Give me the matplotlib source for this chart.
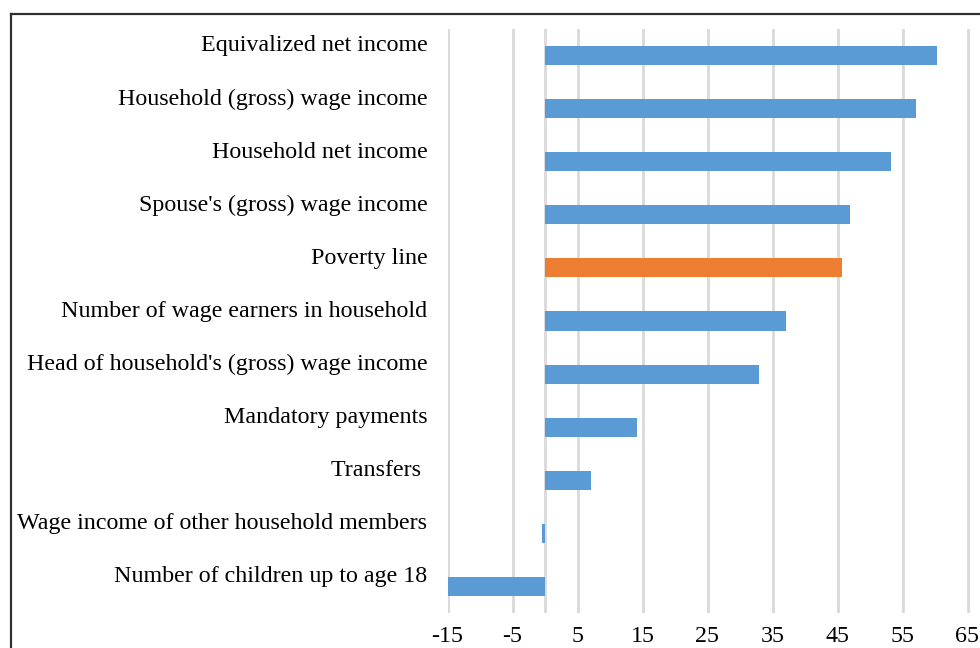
import matplotlib
matplotlib.use("Agg")
import matplotlib.pyplot as plt
from matplotlib.lines import Line2D
import numpy as np

categories = [
    "Equivalized net income",
    "Household (gross) wage income",
    "Household net income",
    "Spouse's (gross) wage income",
    "Poverty line",
    "Number of wage earners in household",
    "Head of household's (gross) wage income",
    "Mandatory payments",
    "Transfers ",
    "Wage income of other household members",
    "Number of children up to age 18",
]
values = [60.3, 57.1, 53.2, 46.9, 45.7, 37.0, 32.9, 14.2, 7.0, -0.5, -15.0]
highlight = "Poverty line"
x_ticks = [-15, -5, 5, 15, 25, 35, 45, 55, 65]

BLUE = "#5B9BD5"
ORANGE = "#ED7D31"
GRID = "#D9D9D9"

plt.rcParams["font.family"] = ["Liberation Serif", "DejaVu Serif"]

W, H = 980, 648
fig = plt.figure(figsize=(W / 100, H / 100), dpi=100)
ax = fig.add_axes([447.5 / W, 1 - 613 / H, (980 - 447.5) / W, 584 / H])

pos = np.arange(len(categories))
colors = [ORANGE if c == highlight else BLUE for c in categories]
ax.barh(pos, values, height=0.36, color=colors, zorder=3)

ax.set_xlim(-15, -15 + (980 - 447.5) / 6.5)
ax.set_ylim(len(categories) - 0.5, -0.5)

ax.set_xticks(x_ticks)
ax.set_xticklabels([str(t) for t in x_ticks])
for t in x_ticks:
    ax.axvline(t, color=GRID, lw=2, zorder=1)
ax.axvline(0, color=GRID, lw=2, zorder=1)

ax.set_yticks(pos - 0.23)
ax.set_yticklabels(categories)
ax.tick_params(axis="y", length=0, pad=14.5, labelsize=17.3, colors="#000000")
ax.tick_params(axis="x", length=0, pad=9, labelsize=17.3, colors="#000000")

for s in ax.spines.values():
    s.set_visible(False)

# chart frame
fx = 10.5 / W
fy = 1 - 14 / H
fig.add_artist(Line2D([fx, fx], [-0.1, fy], transform=fig.transFigure,
                      color="#303030", lw=1.6))
fig.add_artist(Line2D([fx, 1.1], [fy, fy], transform=fig.transFigure,
                      color="#303030", lw=1.6))

fig.savefig("out.png", dpi=100)
